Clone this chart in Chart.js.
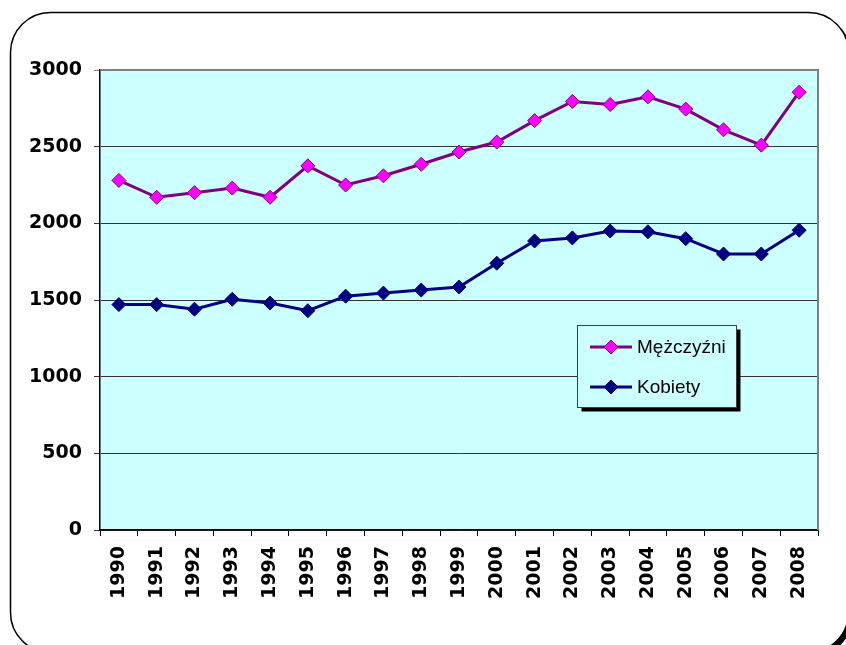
<!DOCTYPE html>
<html>
<head>
<meta charset="utf-8">
<script src="https://cdn.jsdelivr.net/npm/chart.js@4/dist/chart.umd.min.js"></script>
<style>
    body { margin: 0; background: #fff; overflow: hidden; }
    canvas { display: block; }
</style>
</head>
<body>
<canvas id="chart" width="846" height="645"></canvas>
<script>
"use strict"


const years = ['1990', '1991', '1992', '1993', '1994', '1995', '1996', '1997', '1998', '1999',
               '2000', '2001', '2002', '2003', '2004', '2005', '2006', '2007', '2008'];

const men = [2280, 2170, 2200, 2230, 2170, 2375, 2250, 2310, 2385, 2465,
             2530, 2670, 2795, 2775, 2825, 2745, 2610, 2510, 2855];

const women = [1470, 1470, 1440, 1505, 1480, 1430, 1525, 1545, 1565, 1585,
               1740, 1885, 1905, 1950, 1945, 1900, 1800, 1800, 1955];

const yTicks = [0, 500, 1000, 1500, 2000, 2500, 3000];


const app = {
    canvasContext: document.getElementById('chart').getContext('2d'),
    plotColor: '#CCFFFF'
};


// white page, rounded frame with a shadow, cyan plot area
const framePlugin =
{
    id: 'frame',
    beforeDraw(chart)
    {
        const ctx = chart.ctx;
        const area = chart.chartArea;

        ctx.save();
        ctx.fillStyle = '#fff';
        ctx.fillRect(0, 0, chart.width, chart.height);

        ctx.beginPath();
        ctx.roundRect(14.5, 16.5, 838, 640, 40);
        ctx.fillStyle = '#000';
        ctx.fill();

        ctx.beginPath();
        ctx.roundRect(10.5, 12.5, 838, 640, 40);
        ctx.fillStyle = '#fff';
        ctx.fill();
        ctx.lineWidth = 1.5;
        ctx.strokeStyle = '#000';
        ctx.stroke();

        ctx.fillStyle = app.plotColor;
        ctx.fillRect(area.left, area.top, area.right - area.left, area.bottom - area.top);
        ctx.restore();
    },
    beforeDatasetsDraw(chart)
    {
        const ctx = chart.ctx;
        const area = chart.chartArea;

        ctx.save();
        ctx.strokeStyle = '#808080';
        ctx.lineWidth = 2;
        ctx.beginPath();
        ctx.moveTo(area.left, area.top);
        ctx.lineTo(area.right, area.top);
        ctx.lineTo(area.right, area.bottom);
        ctx.stroke();
        ctx.restore();
    }
};


// legend box inside the plot area, drawn over the lines
const legendBoxPlugin =
{
    id: 'legendBox',
    afterDraw(chart)
    {
        const ctx = chart.ctx;
        const x = 577.5, y = 325.5, w = 159, h = 82;

        ctx.save();
        ctx.fillStyle = '#000';
        ctx.fillRect(x + 4, y + 4, w, h);
        ctx.fillStyle = app.plotColor;
        ctx.fillRect(x, y, w, h);
        ctx.strokeStyle = '#404040';
        ctx.lineWidth = 1;
        ctx.strokeRect(x, y, w, h);

        chart.data.datasets.forEach((ds, i) =>
        {
            const cy = 347 + i * 40;

            ctx.strokeStyle = ds.borderColor;
            ctx.lineWidth = 3;
            ctx.beginPath();
            ctx.moveTo(590, cy);
            ctx.lineTo(632, cy);
            ctx.stroke();

            const r = 7;
            ctx.beginPath();
            ctx.moveTo(611, cy - r);
            ctx.lineTo(611 + r, cy);
            ctx.lineTo(611, cy + r);
            ctx.lineTo(611 - r, cy);
            ctx.closePath();
            ctx.fillStyle = ds.pointBackgroundColor;
            ctx.fill();
            ctx.lineWidth = 1;
            ctx.strokeStyle = ds.pointBorderColor;
            ctx.stroke();

            ctx.fillStyle = '#000';
            ctx.font = '19px "Liberation Sans", Arial, sans-serif';
            ctx.textBaseline = 'middle';
            ctx.fillText(ds.label, 637, cy + 1);
        });
        ctx.restore();
    }
};


window.onload = () =>
{
    line();
}


function line()
{
    const tickFont = { family: '"DejaVu Sans", Verdana, sans-serif', size: 19, weight: 'bold' };

    const data =
    {
        labels: years,
        datasets: [{
                    label: 'Mężczyźni',
                    data: men,
                    borderColor: '#800080',
                    backgroundColor: '#800080',
                    borderWidth: 3,
                    pointStyle: 'rectRot',
                    pointRadius: 7,
                    pointHoverRadius: 7,
                    pointBackgroundColor: '#FF00FF',
                    pointBorderColor: '#800080',
                    pointBorderWidth: 1,
                    tension: 0
                   },
                   {
                    label: 'Kobiety',
                    data: women,
                    borderColor: '#000080',
                    backgroundColor: '#000080',
                    borderWidth: 3,
                    pointStyle: 'rectRot',
                    pointRadius: 7,
                    pointHoverRadius: 7,
                    pointBackgroundColor: '#000080',
                    pointBorderColor: '#000080',
                    pointBorderWidth: 1,
                    tension: 0
                   }]
    };

    const config =
    {
        type: 'line',
        data: data,
        plugins: [framePlugin, legendBoxPlugin],
        options:
        {
            responsive: false,
            animation: false,
            layout: { padding: { top: 70, right: 28, left: 0, bottom: 0 } },
            plugins:
            {
                legend: { display: false },
                tooltip: { enabled: false },
                title: { display: false }
            },
            scales:
            {
                x:
                {
                    offset: true,
                    grid:
                    {
                        offset: true,
                        drawOnChartArea: false,
                        tickLength: 6,
                        color: '#000'
                    },
                    border: { color: '#000', width: 1.5 },
                    ticks:
                    {
                        color: '#000',
                        font: tickFont,
                        minRotation: 90,
                        maxRotation: 90,
                        padding: 10
                    },
                    afterFit: (scale) => { scale.height = 115; }
                },
                y:
                {
                    min: 0,
                    max: 3000,
                    afterBuildTicks: (scale) => { scale.ticks = yTicks.map(v => ({ value: v })); },
                    grid:
                    {
                        tickLength: 6,
                        color: (c) => c.tick && c.tick.value === 3000 ? '#808080' : '#333'
                    },
                    border: { color: '#000', width: 1.5 },
                    ticks:
                    {
                        color: '#000',
                        font: tickFont,
                        padding: 12,
                        callback: (value) => String(value)
                    },
                    afterFit: (scale) => { scale.width = 100; }
                }
            }
        }
    };

    var myChart = new Chart(app.canvasContext, config);
}
</script>
</body>
</html>
